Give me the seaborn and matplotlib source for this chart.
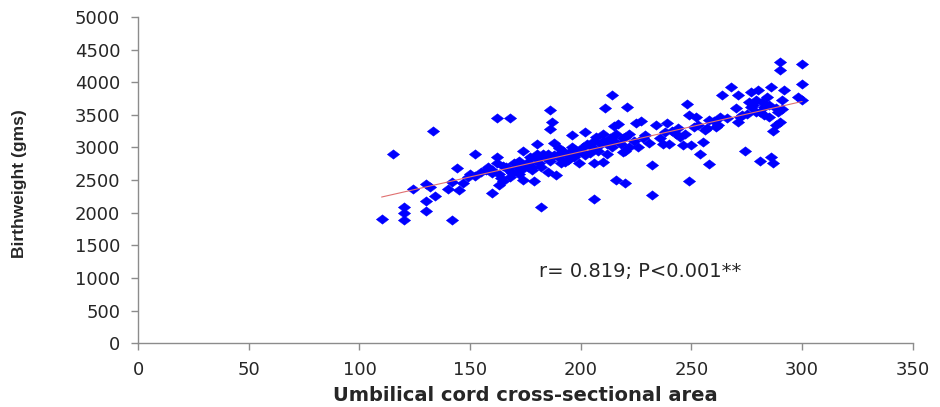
import matplotlib
matplotlib.use("Agg")
import matplotlib.pyplot as plt
from matplotlib.path import Path
import seaborn as sns
import numpy as np
import pandas as pd

# Umbilical cord cross-sectional area (x) and birthweight in gms (y)
area = [110, 115, 120, 120, 120, 124, 130, 130, 130, 133, 132, 134, 140, 142, 142, 144, 145, 147, 149, 152,
        152, 157, 160, 162, 162, 162, 160, 163, 164, 166, 168, 169, 171, 174, 174, 176, 179, 180, 182, 180,
        183, 186, 187, 186, 188, 189, 190, 191, 194, 196, 196, 197, 199, 202, 204, 206, 206, 207, 210, 211,
        210, 212, 214, 215, 216, 217, 219, 220, 221, 220, 222, 225, 227, 229, 231, 232, 232, 234, 237, 238,
        239, 240, 243, 245, 246, 248, 249, 249, 250, 251, 252, 254, 255, 256, 258, 258, 261, 263, 264, 268,
        271, 271, 272, 274, 275, 277, 277, 279, 280, 281, 281, 283, 284, 285, 286, 286, 287, 287, 288, 290,
        290, 290, 291, 291, 292, 298, 300, 300, 300,
        150, 155, 158, 160, 163, 165, 167, 168, 170, 171, 172, 173, 175, 176, 177, 178, 180, 181, 182, 184,
        185, 186, 188, 190, 191, 192, 194, 195, 197, 198, 200, 201, 202, 203, 205, 206, 208, 209, 210, 212,
        213, 214, 215, 216, 218, 219, 220, 222, 224, 226, 228, 236, 241, 244, 247, 253, 257, 260, 262, 266,
        270, 273, 276, 278, 279, 282, 283, 285, 288, 289, 165, 168, 172, 178, 185, 193]
weight = [1908, 2893, 2082, 2000, 1888, 2362, 2439, 2178, 2031, 3255, 2398, 2255, 2362, 1888, 2474, 2689, 2347, 2449, 2551, 2893,
          2561, 2653, 2296, 3459, 2857, 2765, 2602, 2423, 2525, 2704, 3459, 2602, 2755, 2944, 2500, 2704, 2490, 3051, 2092, 2898,
          2898, 3582, 3388, 3291, 3071, 2577, 2985, 2755, 2806, 3189, 3010, 2857, 2755, 3240, 2908, 2204, 2755, 3163, 3214, 3612,
          2781, 3061, 3801, 3326, 2500, 3367, 2934, 2459, 3622, 3163, 3010, 3378, 3408, 3189, 3071, 2724, 2276, 3342, 3061, 3240,
          3378, 3061, 3214, 3163, 3036, 3673, 3495, 2490, 3036, 3316, 3469, 2898, 3087, 3265, 2745, 3418, 3316, 3469, 3801, 3928,
          3801, 3393, 3469, 2944, 3520, 3622, 3852, 3724, 3877, 2796, 3546, 3622, 3775, 3469, 3928, 2857, 2755, 3255, 3342, 4311,
          4184, 3393, 3597, 3724, 3877, 3775, 4286, 3980, 3735,
          2600, 2620, 2700, 2650, 2600, 2720, 2680, 2640, 2760, 2700, 2800, 2660, 2720, 2780, 2850, 2700, 2820, 2760, 2700, 2850,
          2900, 2800, 2880, 2900, 2820, 2950, 2880, 2930, 2980, 2900, 2950, 3000, 2880, 3050, 3000, 3100, 2950, 3050, 3100, 2900,
          3150, 3000, 3100, 3200, 3050, 3150, 2950, 3200, 3100, 3000, 3150, 3150, 3250, 3300, 3200, 3350, 3300, 3400, 3350, 3450,
          3600, 3500, 3700, 3650, 3550, 3700, 3500, 3650, 3600, 3550, 2480, 2550, 2600, 2650, 2620, 2780]

x_ticks = [0, 50, 100, 150, 200, 250, 300, 350]
y_ticks = [0, 500, 1000, 1500, 2000, 2500, 3000, 3500, 4000, 4500, 5000]
annotation = "r= 0.819; P<0.001**"

df = pd.DataFrame({"area": area, "weight": weight})

sns.set_style("white")
plt.rcParams["font.family"] = ["DejaVu Sans"]

fig = plt.figure(figsize=(9.4, 4.07), dpi=100)
ax = fig.add_axes([0.147, 0.157, 0.824, 0.801])

# wide diamond marker (wider than tall, as in the reference)
wide_diamond = Path([(-1.0, 0.0), (0.0, 0.76), (1.0, 0.0), (0.0, -0.76), (-1.0, 0.0)],
                    [Path.MOVETO, Path.LINETO, Path.LINETO, Path.LINETO, Path.CLOSEPOLY])

sns.scatterplot(data=df, x="area", y="weight", marker=wide_diamond, s=80, color="#0000FF",
                edgecolor="#0000FF", linewidth=0.3, ax=ax, zorder=2)
sns.regplot(data=df, x="area", y="weight", scatter=False, ci=None, ax=ax,
            line_kws={"color": "#E07070", "linewidth": 0.8, "zorder": 3})

ax.set_xlim(0, 350)
ax.set_ylim(0, 5000)
ax.set_xticks(x_ticks)
ax.set_yticks(y_ticks)
ax.tick_params(axis="both", which="major", labelsize=13, length=5, width=1,
               color="#8c8c8c", direction="out", pad=8, left=True, bottom=True)
for side in ["top", "right"]:
    ax.spines[side].set_visible(False)
for side in ["left", "bottom"]:
    ax.spines[side].set_color("#8c8c8c")
    ax.spines[side].set_linewidth(1)

ax.set_xlabel("Umbilical cord cross-sectional area", fontsize=14, fontweight="bold", labelpad=5)
ax.set_ylabel("Birthweight (gms)", fontsize=12.5, fontweight="bold",
              family=["Liberation Sans", "DejaVu Sans"])
ax.yaxis.set_label_coords(-0.143, 0.49)

ax.text(181, 1100, annotation, fontsize=14, va="center", ha="left")

fig.savefig("out.png", dpi=100)
